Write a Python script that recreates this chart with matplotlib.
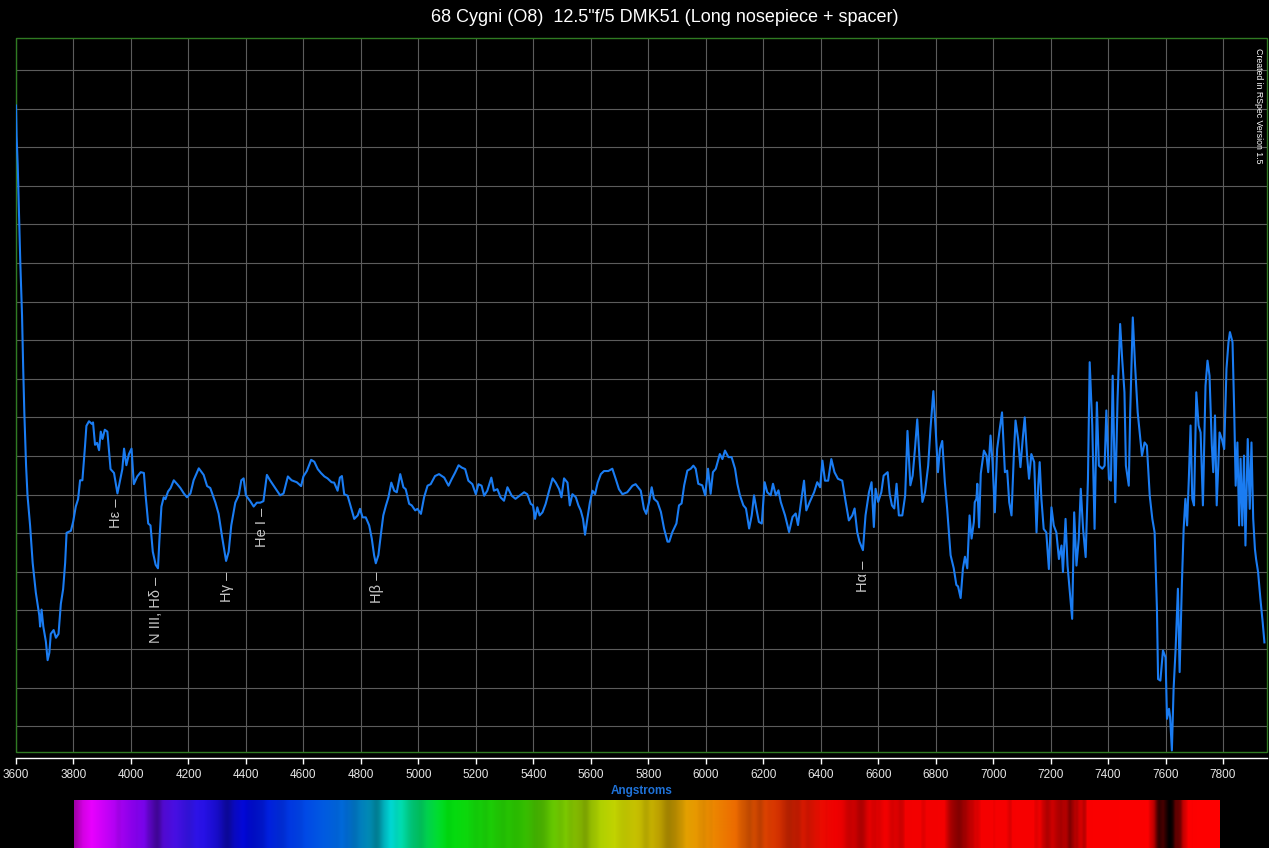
import matplotlib
matplotlib.use("Agg")
import matplotlib.pyplot as plt
import numpy as np
from matplotlib.colors import to_rgb
from matplotlib.patches import Rectangle

# spectrum (wavelength in Angstrom, relative flux)
wl_blue = [3600, 3602, 3606, 3609, 3615, 3621, 3625, 3629, 3635, 3640,
           3649, 3658, 3669, 3681, 3684, 3689, 3695, 3704, 3710, 3716,
           3721, 3731, 3739, 3748, 3756, 3764, 3771, 3776, 3791, 3799,
           3808, 3816, 3823, 3831, 3840, 3845, 3854, 3864, 3868, 3875,
           3882, 3889, 3895, 3901, 3909, 3918, 3929, 3941, 3953, 3962,
           3970, 3976, 3984, 3993, 4002, 4010, 4022, 4034, 4045, 4051,
           4060, 4068, 4076, 4086, 4094, 4099, 4106, 4114, 4120, 4129,
           4138, 4149, 4161, 4172, 4184, 4195, 4207, 4218, 4236, 4253,
           4265, 4276, 4294, 4305, 4317, 4331, 4340, 4349, 4363, 4375,
           4384, 4392, 4400, 4415, 4427, 4438, 4450, 4461, 4473, 4484,
           4502, 4519, 4531, 4546, 4559, 4577, 4592, 4600, 4612, 4627,
           4638, 4650, 4661, 4673, 4684, 4698]
flux_blue = [1.708, 1.630, 1.552, 1.465, 1.300, 1.164, 1.028, 0.912, 0.776, 0.698,
             0.620, 0.523, 0.446, 0.387, 0.358, 0.402, 0.358, 0.319, 0.271, 0.290,
             0.339, 0.349, 0.329, 0.339, 0.417, 0.455, 0.523, 0.601, 0.606, 0.630,
             0.669, 0.688, 0.737, 0.737, 0.824, 0.878, 0.890, 0.883, 0.887, 0.829,
             0.834, 0.815, 0.863, 0.844, 0.868, 0.863, 0.766, 0.756, 0.703, 0.737,
             0.766, 0.819, 0.776, 0.805, 0.819, 0.727, 0.747, 0.758, 0.756, 0.698,
             0.625, 0.620, 0.552, 0.518, 0.509, 0.582, 0.669, 0.693, 0.688, 0.708,
             0.717, 0.737, 0.727, 0.717, 0.703, 0.693, 0.703, 0.737, 0.768, 0.751,
             0.722, 0.717, 0.679, 0.650, 0.591, 0.528, 0.552, 0.620, 0.679, 0.698,
             0.737, 0.742, 0.698, 0.683, 0.669, 0.679, 0.679, 0.683, 0.751, 0.737,
             0.717, 0.698, 0.703, 0.747, 0.737, 0.732, 0.722, 0.747, 0.761, 0.790,
             0.785, 0.766, 0.756, 0.747, 0.742, 0.732]

wl_green = [4707, 4719, 4727, 4734, 4742, 4754, 4762, 4777, 4789, 4797,
            4806, 4817, 4829, 4838, 4846, 4852, 4861, 4870, 4878, 4887,
            4896, 4906, 4916, 4925, 4937, 4948, 4956, 4968, 4977, 4989,
            4997, 5009, 5020, 5032, 5043, 5058, 5072, 5090, 5105, 5116,
            5128, 5140, 5151, 5163, 5174, 5188, 5200, 5209, 5220, 5229,
            5240, 5254, 5263, 5275, 5286, 5298, 5310, 5325, 5338, 5352,
            5368, 5379, 5391, 5399, 5406, 5414, 5422, 5432, 5443, 5455,
            5467, 5478, 5490, 5498, 5507, 5519, 5527, 5536, 5548, 5557,
            5565, 5573, 5580, 5588, 5597, 5606, 5615, 5624, 5635, 5646,
            5661, 5675, 5687, 5698, 5710, 5727, 5745, 5756, 5774, 5785,
            5793]
flux_green = [0.731, 0.710, 0.744, 0.748, 0.701, 0.697, 0.676, 0.637, 0.646, 0.663,
              0.641, 0.641, 0.620, 0.586, 0.543, 0.522, 0.543, 0.599, 0.646, 0.671,
              0.693, 0.731, 0.710, 0.706, 0.753, 0.719, 0.714, 0.676, 0.672, 0.659,
              0.663, 0.650, 0.693, 0.723, 0.727, 0.748, 0.753, 0.744, 0.723, 0.740,
              0.757, 0.776, 0.770, 0.766, 0.736, 0.727, 0.701, 0.727, 0.723, 0.697,
              0.710, 0.744, 0.710, 0.714, 0.693, 0.684, 0.719, 0.697, 0.689, 0.697,
              0.706, 0.701, 0.676, 0.672, 0.637, 0.667, 0.646, 0.654, 0.676, 0.710,
              0.742, 0.731, 0.714, 0.693, 0.742, 0.731, 0.672, 0.701, 0.693, 0.672,
              0.659, 0.637, 0.596, 0.637, 0.680, 0.710, 0.701, 0.731, 0.753, 0.761,
              0.761, 0.767, 0.740, 0.714, 0.701, 0.706, 0.723, 0.727, 0.710, 0.663,
              0.650]

wl_orange = [5803, 5812, 5820, 5832, 5844, 5855, 5867, 5873, 5884, 5898,
             5907, 5916, 5925, 5936, 5948, 5957, 5965, 5974, 5988, 5998,
             6008, 6017, 6025, 6035, 6049, 6058, 6067, 6079, 6090, 6102,
             6110, 6119, 6131, 6140, 6151, 6160, 6168, 6176, 6185, 6195,
             6205, 6214, 6226, 6234, 6244, 6253, 6261, 6276, 6290, 6302,
             6313, 6321, 6330, 6342, 6350, 6362, 6377, 6388, 6398, 6406,
             6415, 6426, 6437, 6448, 6460, 6475, 6487, 6498, 6510, 6518,
             6527, 6535, 6547, 6556, 6568, 6577, 6585, 6591, 6600, 6611,
             6619, 6633, 6640, 6648, 6656, 6664, 6672, 6684, 6694, 6702,
             6712, 6720, 6728, 6736, 6744, 6754, 6763, 6774, 6782, 6792,
             6800, 6808, 6815, 6823, 6832, 6840, 6852, 6863, 6872, 6878,
             6887, 6895, 6902, 6910, 6918, 6925, 6933]
flux_orange = [0.681, 0.719, 0.689, 0.681, 0.655, 0.612, 0.578, 0.578, 0.603, 0.625,
               0.672, 0.677, 0.724, 0.762, 0.767, 0.775, 0.767, 0.728, 0.724, 0.698,
               0.767, 0.702, 0.758, 0.767, 0.805, 0.792, 0.814, 0.797, 0.797, 0.767,
               0.728, 0.698, 0.672, 0.664, 0.612, 0.646, 0.698, 0.664, 0.629, 0.625,
               0.732, 0.706, 0.698, 0.728, 0.698, 0.711, 0.681, 0.646, 0.603, 0.642,
               0.651, 0.621, 0.672, 0.736, 0.659, 0.681, 0.706, 0.732, 0.719, 0.788,
               0.736, 0.736, 0.792, 0.758, 0.741, 0.736, 0.681, 0.633, 0.646, 0.664,
               0.603, 0.578, 0.556, 0.646, 0.706, 0.732, 0.616, 0.715, 0.681, 0.706,
               0.749, 0.758, 0.702, 0.672, 0.664, 0.728, 0.646, 0.646, 0.698, 0.865,
               0.724, 0.749, 0.818, 0.895, 0.792, 0.681, 0.706, 0.775, 0.870, 0.968,
               0.870, 0.758, 0.818, 0.839, 0.732, 0.664, 0.543, 0.509, 0.466, 0.462,
               0.432, 0.509, 0.539, 0.509, 0.646, 0.586, 0.629]

wl_red = [6936, 6942, 6945, 6951, 6957, 6968, 6977, 6983, 6991, 6998,
          7006, 7014, 7023, 7031, 7041, 7049, 7056, 7064, 7072, 7078,
          7087, 7095, 7104, 7110, 7118, 7125, 7133, 7143, 7151, 7157,
          7162, 7168, 7176, 7185, 7194, 7203, 7211, 7220, 7229, 7238,
          7243, 7252, 7259, 7267, 7275, 7282, 7290, 7298, 7305, 7313,
          7322, 7330, 7336, 7345, 7353, 7361, 7368, 7380, 7388, 7394,
          7403, 7410, 7416, 7425, 7433, 7442, 7449, 7457, 7462, 7472,
          7477, 7486, 7494, 7503, 7510, 7518, 7527, 7535, 7545, 7554,
          7562, 7570, 7574, 7582, 7591, 7600, 7605, 7612, 7616, 7622,
          7628, 7635, 7643, 7649, 7657, 7663, 7669, 7675, 7681, 7687,
          7693, 7699, 7707, 7715, 7722, 7730, 7739, 7746, 7753, 7761,
          7766, 7772, 7778, 7788, 7796, 7804, 7812, 7819, 7824, 7833,
          7839, 7844, 7850, 7856, 7861, 7867, 7873, 7878, 7886, 7893,
          7899, 7905, 7911, 7915, 7922, 7930, 7938, 7944]
flux_red = [0.680, 0.689, 0.728, 0.615, 0.754, 0.814, 0.801, 0.758, 0.853, 0.784,
            0.654, 0.818, 0.870, 0.913, 0.758, 0.762, 0.680, 0.646, 0.801, 0.892,
            0.844, 0.771, 0.853, 0.900, 0.801, 0.741, 0.805, 0.784, 0.602, 0.723,
            0.784, 0.689, 0.611, 0.602, 0.507, 0.667, 0.620, 0.602, 0.533, 0.568,
            0.499, 0.637, 0.516, 0.447, 0.378, 0.654, 0.516, 0.585, 0.715, 0.611,
            0.538, 0.741, 1.043, 0.879, 0.611, 0.939, 0.775, 0.767, 0.775, 0.918,
            0.741, 0.736, 1.008, 0.680, 0.948, 1.142, 1.052, 0.965, 0.775, 0.723,
            0.913, 1.159, 1.034, 0.913, 0.861, 0.801, 0.835, 0.827, 0.697, 0.637,
            0.602, 0.404, 0.222, 0.218, 0.296, 0.278, 0.119, 0.145, 0.123, 0.037,
            0.197, 0.300, 0.456, 0.240, 0.473, 0.611, 0.689, 0.620, 0.741, 0.879,
            0.689, 0.672, 0.965, 0.879, 0.861, 0.672, 0.982, 1.047, 1.008, 0.827,
            0.758, 0.905, 0.672, 0.861, 0.844, 0.818, 1.026, 1.095, 1.121, 1.095,
            0.913, 0.723, 0.835, 0.620, 0.793, 0.620, 0.801, 0.568, 0.844, 0.663,
            0.835, 0.637, 0.559, 0.533, 0.499, 0.430, 0.369, 0.317]

# line identifications: label, wavelength, flux at top of label
line_labels = ["H\u03b5 \u2013", "N III, H\u03b4 \u2013", "H\u03b3 \u2013",
               "He I \u2013", "H\u03b2 \u2013", "H\u03b1 \u2013"]
line_wl = [3948, 4087, 4334, 4455, 4855, 6546]
line_top = [0.691, 0.487, 0.500, 0.665, 0.500, 0.528]

# colours of the synthetic spectrum strip under the chart
strip_wl = [3800, 3860, 4000, 4200, 4400, 4600, 4750, 4900, 4980, 5100,
            5350, 5550, 5700, 5850, 6000, 6150, 6300, 6450, 7800]
strip_colors = ['#c000c8', '#e800ff', '#8a00ea', '#3414e8', '#0008dc', '#0048e6',
                '#0070dc', '#00e2e0', '#00dc80', '#00dc10', '#30cc00', '#90cc00',
                '#c8d400', '#d8b400', '#ec9000', '#ec5a00', '#e02400', '#f00000',
                '#ff0000']

title = "68 Cygni (O8)  12.5\"f/5 DMK51 (Long nosepiece + spacer)"
credit = "Created in RSpec Version 1.5"

wavelength = np.array(wl_blue + wl_green + wl_orange + wl_red, dtype=float)
flux = np.array(flux_blue + flux_green + flux_orange + flux_red)
assert len(wavelength) == len(flux)

plt.rcParams['font.family'] = ['Liberation Sans', 'DejaVu Sans']

W, H = 1269, 848
fig = plt.figure(figsize=(W / 100, H / 100), dpi=100, facecolor='black')

ax = fig.add_axes([16 / W, 1 - 752 / H, 1251 / W, 714 / H], facecolor='black')
ax.plot(wavelength, flux, color='#1a7cf2', lw=1.5, zorder=6)
ax.set_xlim(3600, 7953)
ax.set_ylim(0.033, 1.883)

ax.set_xticks(np.arange(3600, 7801, 200))
ax.set_yticks(np.arange(0.1, 1.81, 0.1))
ax.tick_params(axis='y', length=0, labelleft=False)
ax.tick_params(axis='x', colors='white', direction='out', length=4, width=1,
               pad=3.5, labelsize=8.5, labelcolor='#e6e6e6')
ax.grid(True, color='#5c5c5c', lw=0.8)
ax.set_axisbelow(True)

for side in ['top', 'left', 'right']:
    ax.spines[side].set_visible(False)
ax.spines['bottom'].set_position(('outward', 4.5))
ax.spines['bottom'].set_color('white')
ax.spines['bottom'].set_linewidth(1)
ax.add_patch(Rectangle((0, 0), 1, 1, transform=ax.transAxes, fill=False,
                       edgecolor='#2f7a22', lw=1, clip_on=False, zorder=4))

ax.set_xlabel('Angstroms', color='#1f72d8', fontsize=8.5, fontweight='bold')
ax.xaxis.set_label_coords(0.5, -0.0546)
ax.xaxis.label.set_va('center')

for lab, x, y in zip(line_labels, line_wl, line_top):
    ax.text(x, y, lab, rotation=90, ha='center', va='top', fontsize=10.5,
            color='#c8c8c8', zorder=5)

ax.text(0.9936, 0.986, credit, transform=ax.transAxes, rotation=270,
        ha='center', va='top', fontsize=6.3, color='white')

fig.text(664.5 / W, 1 - 17 / H, title, ha='center', va='center',
         fontsize=13, color='white')

# spectrum strip: colour by wavelength, darkened by the measured flux
sax = fig.add_axes([74 / W, 0, 1146 / W, 48 / H])
grid_wl = np.linspace(3800, 7790, 1146)
strip_rgb = np.array([to_rgb(c) for c in strip_colors])
base = np.column_stack([np.interp(grid_wl, strip_wl, strip_rgb[:, i]) for i in range(3)])
f = np.interp(grid_wl, wavelength, flux)
kernel = np.ones(5) / 5
f = np.convolve(np.pad(f, 2, mode='edge'), kernel, mode='valid')
bright = np.clip((f - 0.1) / 0.65, 0, 1)
img = (base * bright[:, None])[None, :, :]
sax.imshow(img, aspect='auto', extent=[3800, 7790, 0, 1], interpolation='bilinear')
sax.set_axis_off()

fig.savefig('out.png', dpi=100, facecolor='black')
